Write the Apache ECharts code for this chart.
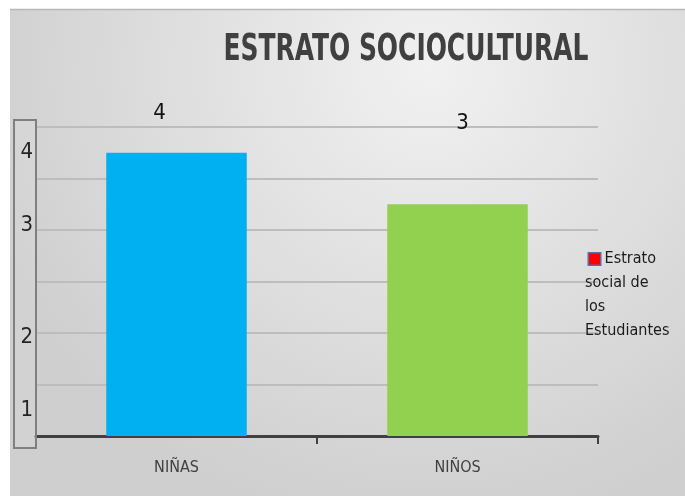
<!DOCTYPE html>
<html>
<head>
<meta charset="utf-8">
<style>
html,body{margin:0;padding:0;background:#fff;}
#c{width:685px;height:496px;}
</style>
<script src="https://cdn.jsdelivr.net/npm/echarts@6/dist/echarts.min.js"></script>
</head>
<body>
<div id="c"></div>
<script>
// ---- data ----
const categories = ['NIÑAS', 'NIÑOS'];
const barValues = [5.5, 4.5];          // bar heights on the value axis
const dataLabels = ['4', '3'];         // labels shown above the bars
const barColors = ['#00B0F0', '#92D050'];
const yTickLabels = ['1', '2', '3', '4'];
const yTickValues = [0.5, 1.92, 4.1, 5.5];
const seriesName = 'Estrato social de los Estudiantes';
const titleText = 'ESTRATO SOCIOCULTURAL';

const narrow = '"Liberation Sans Narrow", "DejaVu Sans Condensed", sans-serif';

const chart = echarts.init(document.getElementById('c'));
const labelOffsets = [[-17, -23], [5, -65]];

chart.setOption({
  backgroundColor: '#ffffff',
  animation: false,
  graphic: [
    {
      type: 'rect', z: -10, silent: true,
      shape: { x: 10, y: 9, width: 675, height: 487 },
      style: {
        fill: {
          type: 'radial', x: 0.62, y: 0.12, r: 0.95,
          colorStops: [
            { offset: 0, color: '#f1f1f1' },
            { offset: 0.5, color: '#e0e0e0' },
            { offset: 1, color: '#cfcfcf' }
          ]
        }
      }
    },
    {
      type: 'line', z: -9, silent: true,
      shape: { x1: 10, y1: 9.5, x2: 685, y2: 9.5 },
      style: { stroke: '#b8b8b8', lineWidth: 1.5 }
    },
    {
      type: 'rect', z: 5, silent: true,
      shape: { x: 14, y: 120, width: 22, height: 328 },
      style: { fill: 'rgba(255,255,255,0.08)', stroke: '#7f7f7f', lineWidth: 2 }
    },
    {
      type: 'text', z: 10,
      x: 406, y: 50, scaleX: 0.73, originX: 0, originY: 0,
      style: {
        text: titleText,
        font: 'bold 38px "DejaVu Sans Condensed", sans-serif',
        fill: '#404040',
        align: 'center', verticalAlign: 'middle'
      }
    }
  ],
  legend: {
    show: true,
    left: 580, top: 247,
    padding: 0,
    orient: 'vertical',
    icon: 'none',
    itemWidth: 0, itemGap: 0,
    selectedMode: false,
    data: [seriesName],
    formatter: function () {
      return '{sp|}{sq|}{t| Estrato}\n{t|social de}\n{t|los}\n{t|Estudiantes}';
    },
    textStyle: {
      fontFamily: narrow, fontSize: 16, color: '#1a1a1a', lineHeight: 24,
      rich: {
        sp: { width: 4, height: 11 },
        sq: { width: 11, height: 11, backgroundColor: '#ff0000', borderColor: '#4f6fb0', borderWidth: 1.5 },
        t: { fontFamily: narrow, fontSize: 16, color: '#1a1a1a', lineHeight: 24 }
      }
    }
  },
  grid: { left: 36, right: 87, top: 127, bottom: 60 },
  xAxis: {
    type: 'category',
    data: categories,
    axisLine: { lineStyle: { color: '#404040', width: 3 } },
    axisTick: { show: true, length: 8, alignWithLabel: false, lineStyle: { color: '#404040', width: 2 } },
    axisLabel: { margin: 24, fontFamily: narrow, fontSize: 16, color: '#404040' }
  },
  yAxis: {
    type: 'value',
    min: 0, max: 6, interval: 1,
    axisLine: { show: false },
    axisTick: { show: false },
    splitLine: { lineStyle: { color: '#bdbdbd', width: 2 } },
    axisLabel: {
      customValues: yTickValues,
      margin: 3,
      fontFamily: narrow, fontSize: 22, color: '#111',
      formatter: function (v) {
        const i = yTickValues.indexOf(v);
        return i >= 0 ? yTickLabels[i] : '';
      }
    }
  },
  series: [{
    name: seriesName,
    type: 'bar',
    barWidth: '50%',
    itemStyle: { color: '#ff0000' },
    data: barValues.map((v, i) => ({
      value: v,
      itemStyle: { color: barColors[i] },
      label: {
        show: true, position: 'top', offset: labelOffsets[i],
        formatter: dataLabels[i],
        fontFamily: narrow, fontSize: 22, color: '#111'
      }
    }))
  }]
});
</script>
</body>
</html>
